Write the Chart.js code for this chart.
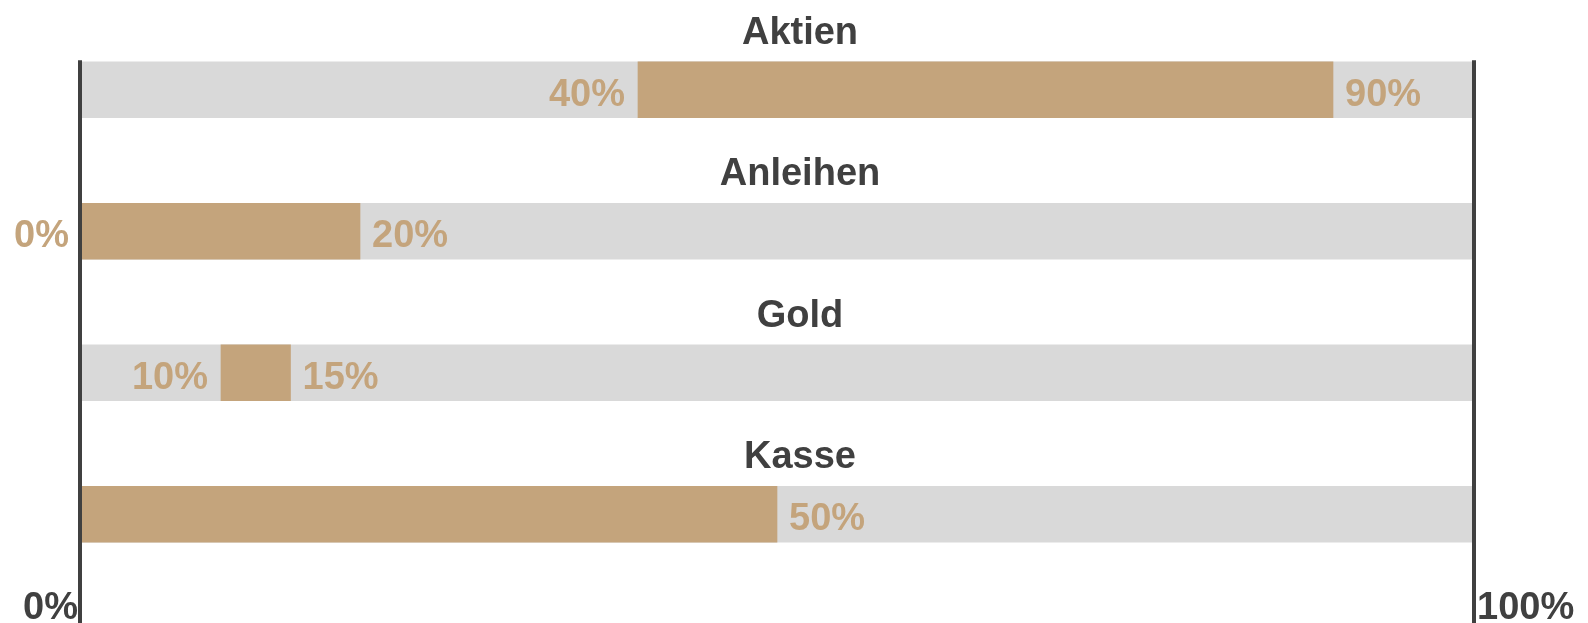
<!DOCTYPE html>
<html>
<head>
<meta charset="utf-8">
<script src="https://cdn.jsdelivr.net/npm/chart.js@4.4.1/dist/chart.umd.min.js"></script>
<style>
  html, body { margin: 0; padding: 0; background: #ffffff; }
  #wrap { width: 1588px; height: 623px; position: relative; }
</style>
</head>
<body>
<div id="wrap"><canvas id="c"></canvas></div>
<script>
const categories = ['Aktien', 'Anleihen', 'Gold', 'Kasse'];
const rangeStart = [40, 0, 10, 0];
const rangeEnd = [90, 20, 15, 50];
const startLabels = ['40%', '0%', '10%', ''];
const endLabels = ['90%', '20%', '15%', '50%'];
const scaleMin = 0;
const scaleMax = 100;
const axisLabels = ['0%', '100%'];

const TAN = '#C4A47C';
const GREY = '#D9D9D9';
const DARK = '#404040';
const FONT = 'bold 38px "Liberation Sans", Arial, sans-serif';

const labelPlugin = {
  id: 'labelPlugin',
  afterDatasetsDraw(chart) {
    const ctx = chart.ctx;
    const xs = chart.scales.x;
    const fg = chart.getDatasetMeta(0).data;
    const bg = chart.getDatasetMeta(1).data;
    const x0 = xs.getPixelForValue(scaleMin);
    const x1 = xs.getPixelForValue(scaleMax);
    ctx.save();
    ctx.font = FONT;

    // axis lines
    const firstTop = bg[0].y - bg[0].height / 2;
    ctx.strokeStyle = DARK;
    ctx.lineWidth = 4;
    ctx.beginPath();
    ctx.moveTo(x0 - 2, firstTop - 1.5);
    ctx.lineTo(x0 - 2, chart.height);
    ctx.moveTo(x1 + 2, firstTop - 1.5);
    ctx.lineTo(x1 + 2, chart.height);
    ctx.stroke();

    // category titles
    ctx.fillStyle = DARK;
    ctx.textAlign = 'center';
    ctx.textBaseline = 'alphabetic';
    categories.forEach((c, i) => {
      const top = bg[i].y - bg[i].height / 2;
      ctx.fillText(c, chart.width / 2 + 6, top - 18);
    });

    // value labels
    ctx.fillStyle = TAN;
    categories.forEach((c, i) => {
      const el = fg[i];
      const sx = xs.getPixelForValue(rangeStart[i]);
      const ex = xs.getPixelForValue(rangeEnd[i]);
      const by = el.y + 16;
      if (startLabels[i]) {
        ctx.textAlign = 'right';
        ctx.fillText(startLabels[i], sx - 13, by);
      }
      if (endLabels[i]) {
        ctx.textAlign = 'left';
        ctx.fillText(endLabels[i], ex + 12, by);
      }
    });

    // axis end labels
    ctx.fillStyle = DARK;
    ctx.textAlign = 'right';
    ctx.fillText(axisLabels[0], x0 - 4, chart.height - 4);
    ctx.textAlign = 'left';
    ctx.fillText(axisLabels[1], x1 + 5, chart.height - 4);
    ctx.restore();
  }
};

new Chart(document.getElementById('c'), {
  type: 'bar',
  data: {
    labels: categories,
    datasets: [
      {
        data: categories.map((c, i) => [rangeStart[i], rangeEnd[i]]),
        backgroundColor: TAN,
        borderWidth: 0,
        grouped: false,
        barThickness: 56
      },
      {
        data: categories.map(() => [scaleMin, scaleMax]),
        backgroundColor: GREY,
        borderWidth: 0,
        grouped: false,
        barThickness: 56
      }
    ]
  },
  options: {
    indexAxis: 'y',
    responsive: true,
    maintainAspectRatio: false,
    animation: false,
    layout: { padding: { left: 82, right: 116, top: 19, bottom: 38 } },
    plugins: { legend: { display: false }, tooltip: { enabled: false }, title: { display: false } },
    scales: {
      x: { type: 'linear', min: scaleMin, max: scaleMax, display: false },
      y: { type: 'category', display: false, offset: true }
    }
  },
  plugins: [labelPlugin]
});
</script>
</body>
</html>
